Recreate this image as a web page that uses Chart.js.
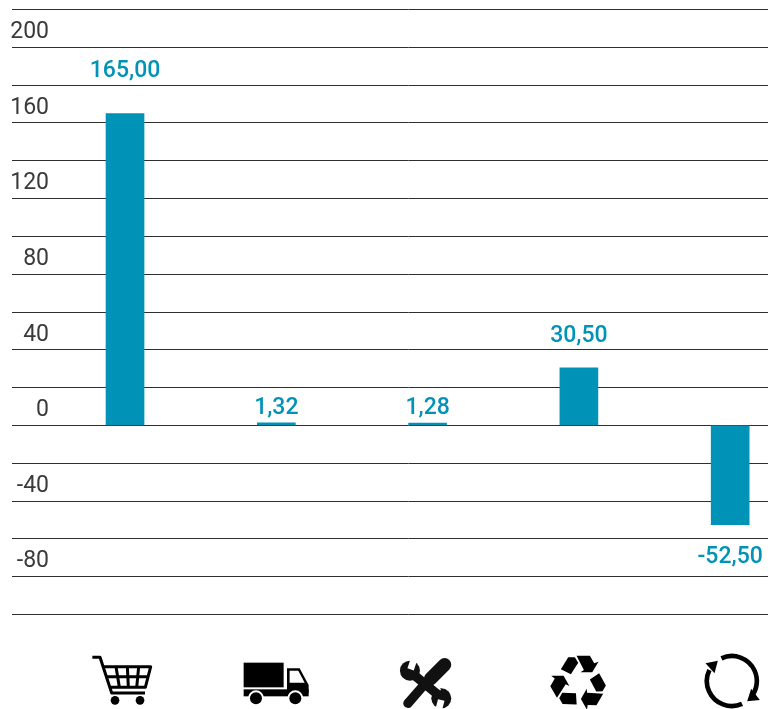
<!DOCTYPE html>
<html lang="en">

<head>
    <meta charset="UTF-8">
    <title>Chart</title>
    <style>
        html, body { margin: 0; padding: 0; background: #fff; overflow: hidden; }
        .dashboard { width: 773px; height: 709px; }
    </style>
</head>

<body>
    <div class="dashboard">
        <canvas id="myChart" width="773" height="709"></canvas>
    </div>

    <script src="https://cdn.jsdelivr.net/npm/chart.js"></script>
    <script>
        var categories = ['cart', 'truck', 'tools', 'recycle', 'cycle'];
        var values = [165.00, 1.32, 1.28, 30.50, -52.50];
        var valueLabels = ['165,00', '1,32', '1,28', '30,50', '-52,50'];
        var tickLabels = [200, 160, 120, 80, 40, 0, -40, -80];

        var TEAL = '#0093b7';
        var LINE = '#2e2e2e';
        var INK = '#3a3a3a';
        var labelGaps = [42, 15, 15, 32, 33];  // the source places each value label by hand

        var icons = {
            cart: { cx: 195, draw: function (c) {
                c.lineWidth = 9;
                c.lineJoin = 'round';
                c.beginPath();
                c.moveTo(97, 52); c.lineTo(120, 52); c.lineTo(155, 159); c.lineTo(255, 159);
                c.moveTo(128, 80); c.lineTo(272, 80); c.lineTo(256, 142); c.lineTo(146, 142);
                c.moveTo(136, 110); c.lineTo(264, 110);
                c.moveTo(168, 80); c.lineTo(178, 142);
                c.moveTo(202, 80); c.lineTo(205, 142);
                c.moveTo(236, 80); c.lineTo(230, 142);
                c.stroke();
                c.beginPath(); c.arc(165, 181, 13, 0, Math.PI * 2); c.fill();
                c.beginPath(); c.arc(240, 181, 13, 0, Math.PI * 2); c.fill();
            } },
            truck: { cx: 648, draw: function (c) {
                c.fillRect(550, 68, 120, 74);
                c.fillRect(550, 148, 195, 21);
                c.fill(new Path2D('M680 85 H718 L745 135 V160 H680 Z'));
                c.fillStyle = '#fff';
                c.fill(new Path2D('M688 92 H714 L733 128 H688 Z'));
                c.beginPath(); c.arc(587, 175, 24, 0, Math.PI * 2); c.fill();
                c.beginPath(); c.arc(705, 175, 24, 0, Math.PI * 2); c.fill();
                c.fillStyle = '#000';
                c.beginPath(); c.arc(587, 175, 18, 0, Math.PI * 2); c.fill();
                c.beginPath(); c.arc(705, 175, 18, 0, Math.PI * 2); c.fill();
            } },
            tools: { cx: 1101, draw: function (c) {
                c.fillStyle = c.strokeStyle = '#111';
                c.lineCap = 'round';
                c.lineWidth = 28;
                c.beginPath(); c.moveTo(1048, 95); c.lineTo(1142, 172); c.stroke();
                c.beginPath(); c.arc(1048, 92, 30, 0, Math.PI * 2); c.fill();
                c.beginPath(); c.arc(1142, 175, 30, 0, Math.PI * 2); c.fill();
                c.strokeStyle = '#fff';
                c.lineCap = 'butt';
                c.lineWidth = 20;
                c.beginPath(); c.moveTo(1062, 52); c.lineTo(1050, 88); c.stroke();
                c.beginPath(); c.moveTo(1132, 218); c.lineTo(1142, 180); c.stroke();
                // white halo where the screwdriver crosses the wrench
                c.lineWidth = 4;
                c.beginPath(); c.moveTo(1096, 110); c.lineTo(1140, 150); c.stroke();
                c.strokeStyle = '#111';
                c.lineCap = 'round';
                c.lineWidth = 40;
                c.beginPath(); c.moveTo(1152, 74); c.lineTo(1110, 116); c.stroke();
                c.lineWidth = 28;
                c.beginPath(); c.moveTo(1090, 135); c.lineTo(1042, 190); c.stroke();
            } },
            recycle: { cx: 357, draw: function (c) {
                var block = new Path2D('M303 88 L325 52 H345 L355 68 L333 103 Z');
                var arrow = new Path2D('M350 47 H390 L403 70 L416 65 L397 97 H362 L372 90 Z');
                for (var i = 0; i < 3; i++) {
                    c.save();
                    c.translate(357, 127);
                    c.rotate(i * Math.PI * 2 / 3);
                    c.translate(-357, -127);
                    c.fill(block);
                    c.fill(arrow);
                    c.restore();
                }
            } },
            cycle: { cx: 810, draw: function (c) {
                c.lineWidth = 14;
                c.beginPath(); c.arc(815, 123, 75, -2.0, 0.72); c.stroke();
                c.beginPath(); c.arc(815, 123, 75, 1.15, 3.6); c.stroke();
                c.fill(new Path2D('M736 70 L773 62 L763 100 Z'));
                c.fill(new Path2D('M861 184 L899 180 L873 146 Z'));
            } }
        };

        var iconPlugin = {
            id: 'iconPlugin',
            afterDraw: function (chart) {
                var ctx = chart.ctx;
                categories.forEach(function (name, i) {
                    var icon = icons[name];
                    ctx.save();
                    ctx.translate(chart.scales.x.getPixelForValue(i) - icon.cx / 3, 640);
                    ctx.scale(1 / 3, 1 / 3);
                    ctx.fillStyle = '#000';
                    ctx.strokeStyle = '#000';
                    icon.draw(ctx);
                    ctx.restore();
                });
            }
        };

        var valueLabelPlugin = {
            id: 'valueLabelPlugin',
            afterDatasetsDraw: function (chart) {
                var ctx = chart.ctx;
                ctx.save();
                ctx.font = '500 23px Roboto';
                ctx.fillStyle = TEAL;
                ctx.textAlign = 'center';
                ctx.textBaseline = 'middle';
                chart.getDatasetMeta(0).data.forEach(function (bar, i) {
                    var gap = values[i] < 0 ? labelGaps[i] : -labelGaps[i];
                    ctx.fillText(valueLabels[i], bar.x, bar.y + gap);
                });
                ctx.restore();
            }
        };

        new Chart(document.getElementById('myChart').getContext('2d'), {
            type: 'bar',
            data: {
                datasets: [{
                    data: values.map(function (v, i) { return { x: i, y: v }; }),
                    backgroundColor: TEAL,
                    borderWidth: 0,
                    barThickness: 38
                }]
            },
            options: {
                responsive: false,
                animation: false,
                layout: { padding: { top: 9.5, right: 5, bottom: 94.5, left: 0 } },
                plugins: { legend: { display: false }, tooltip: { enabled: false } },
                scales: {
                    x: {
                        type: 'linear',
                        display: false,
                        offset: false,
                        min: -0.5025,
                        max: 4.25
                    },
                    y: {
                        min: -100,
                        max: 220,
                        afterFit: function (scale) { scale.width = 49; },
                        border: { display: false },
                        grid: { color: LINE, lineWidth: 1, tickColor: LINE, tickLength: 37 },
                        ticks: {
                            stepSize: 20,
                            autoSkip: false,
                            padding: -37,
                            labelOffset: -15,
                            color: INK,
                            font: { family: 'Roboto', size: 23, weight: '400' },
                            callback: function (v) { return tickLabels.indexOf(v) >= 0 ? String(v) : ''; }
                        }
                    }
                }
            },
            plugins: [valueLabelPlugin, iconPlugin]
        });
    </script>
</body>

</html>
